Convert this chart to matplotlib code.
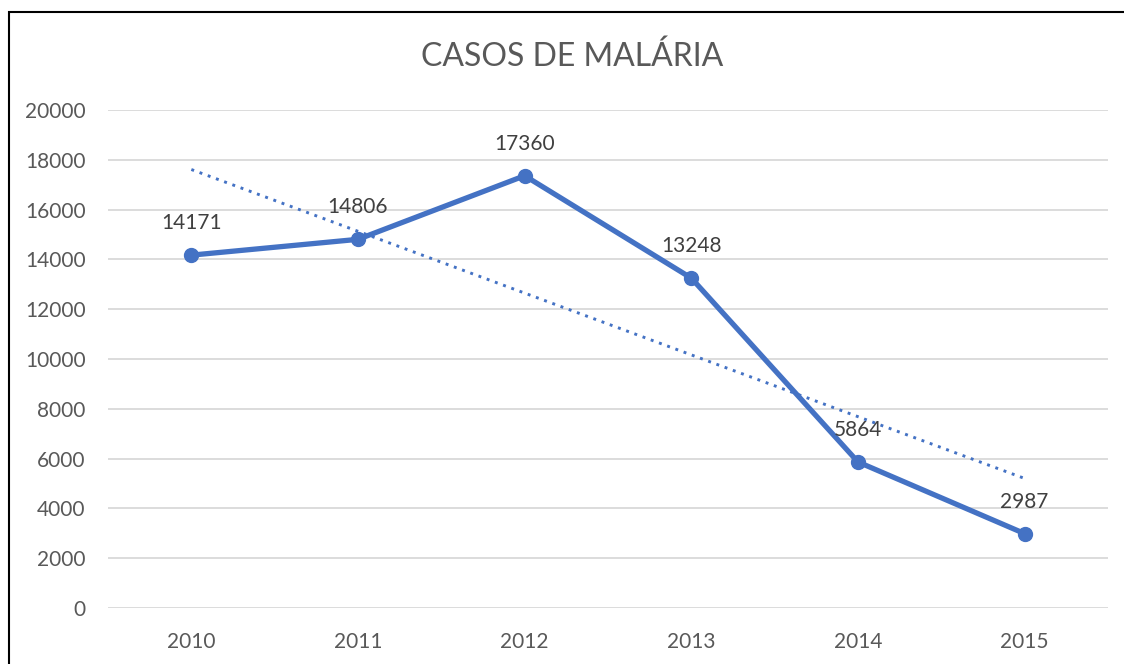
import numpy as np
import matplotlib
matplotlib.use('Agg')
import matplotlib.pyplot as plt
from matplotlib.patches import Rectangle

plt.rcParams['font.family'] = ['Lato', 'DejaVu Sans']

years = ['2010', '2011', '2012', '2013', '2014', '2015']
casos = [14171, 14806, 17360, 13248, 5864, 2987]
yticks = [0, 2000, 4000, 6000, 8000, 10000, 12000, 14000, 16000, 18000, 20000]

fig = plt.figure(figsize=(11.24, 6.64), dpi=100)
ax = fig.add_axes([108 / 1124, 1 - 608 / 664, 1000 / 1124, 498 / 664])

x = np.arange(len(years))

# linear trend line, like Excel's
a, b = np.polyfit(x, casos, 1)
ax.plot(x, a * x + b, color='#4472C4', lw=2.1, linestyle=(0, (1, 2)), zorder=2)

ax.plot(x, casos, color='#4472C4', lw=3.8, marker='o', markersize=10, zorder=3)

for xi, v in zip(x, casos):
    ax.annotate(str(v), (xi, v), xytext=(0, 23), textcoords='offset points',
                ha='center', va='center', fontsize=15, color='#404040', zorder=4)

ax.set_xlim(-0.5, len(years) - 0.5)
ax.set_ylim(0, 20000)
ax.set_xticks(x)
ax.set_xticklabels(years)
ax.set_yticks(yticks)
ax.set_yticklabels([str(t) for t in yticks])
ax.tick_params(length=0, labelsize=15, labelcolor='#595959')
ax.tick_params(axis='x', pad=17)
ax.tick_params(axis='y', pad=16)
ax.grid(axis='y', color='#D9D9D9', lw=1.3)
ax.set_axisbelow(True)
for s in ax.spines.values():
    s.set_visible(False)

fig.text(572 / 1124, 1 - 57 / 664, 'CASOS DE MALÁRIA', ha='center', va='center',
         fontsize=23, color='#595959')

# outer border of the chart object
fig.patches.append(Rectangle((9 / 1124, -0.1), 1.2, 1 - 12 / 664 + 0.1,
                             transform=fig.transFigure, fill=False,
                             edgecolor='black', lw=1.5))

fig.savefig('out.png', dpi=100)
